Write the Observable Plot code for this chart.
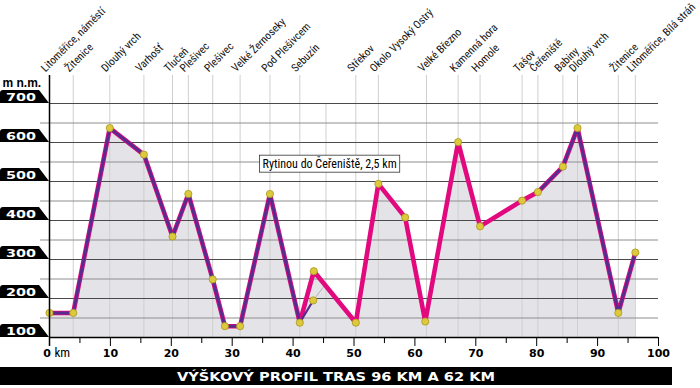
<!DOCTYPE html>
<html>
<head>
<meta charset="utf-8">
<script src="https://cdn.jsdelivr.net/npm/d3@7"></script>
<script src="https://cdn.jsdelivr.net/npm/@observablehq/plot@0.6"></script>
<style>
  html, body { margin: 0; padding: 0; background: #fff; }
  #chart svg { display: block; }
</style>
</head>
<body>
<div id="chart"></div>
<script>
// ---- data ----
const profileKm   = [0, 3.9, 9.9, 15.5, 20.2, 22.8, 26.8, 28.8, 31.3, 36.2, 41.1, 43.4, 50.3, 54.0, 58.4, 61.7, 67.1, 70.7, 77.6, 80.2, 84.3, 86.7, 93.4, 96.2];
const profileElev = [163, 163, 637, 569, 359, 468, 249, 129, 129, 468, 138, 270, 138, 494, 408, 141, 601, 385, 451, 473, 538, 637, 163, 318];

// 62 km route (purple): start part, branch to Sebuzín, end part
const shortStartKm   = [0, 3.9, 9.9, 15.5, 20.2, 22.8, 26.8, 28.8, 31.3, 36.2, 41.1];
const shortStartElev = [163, 163, 637, 569, 359, 468, 249, 129, 129, 468, 138];
const branchKm   = [41.1, 43.3];
const branchElev = [138, 195];
const shortEndKm   = [80.2, 84.3, 86.7, 93.4, 96.2];
const shortEndElev = [473, 538, 637, 163, 318];
// start of the 2,5 km shortcut "Rytinou do Čeřeniště"
const shortcutKm   = [43.3, 44.9];
const shortcutElev = [195, 228];

const placeNames = ["Litoměřice, náměstí", "Žitenice", "Dlouhý vrch", "Varhošť", "Tlučeň", "Plešivec", "Plešivec",
  "Velké Žernoseky", "Pod Plešivcem", "Sebuzín", "Střekov", "Okolo Vysoký Ostrý", "Velké Březno", "Kamenná hora",
  "Homole", "Tašov", "Čeřeniště", "Babiny", "Dlouhý vrch", "Žitenice", "Litoměřice, Bílá stráň"];
const placeKm = [0, 3.9, 9.9, 15.5, 20.2, 22.8, 26.8, 31.3, 36.2, 41.1, 50.3, 54.0, 61.9, 67.1, 70.7, 77.6, 80.2, 84.3, 86.7, 93.4, 96.2];
const extraGridKm = [45.4];

const majorTicksY = [100, 200, 300, 400, 500, 600, 700];
const minorTicksY = [150, 250, 350, 450, 550, 650];
const majorTicksX = [10, 20, 30, 40, 50, 60, 70, 80, 90, 100];
const minorTicksX = [5, 15, 25, 35, 45, 55, 65, 75, 85, 95];

const noteText = "Rytinou do Čeřeniště, 2,5 km";
const noteKm = 46.0, noteElev = 544;
const unitLabel = "m n.m.";
const titleText = "VÝŠKOVÝ PROFIL TRAS 96 KM A 62 KM";

// ---- tables ----
const profile = profileKm.map((k, i) => ({km: k, elev: profileElev[i]}));
const shortStart = shortStartKm.map((k, i) => ({km: k, elev: shortStartElev[i]}));
const branch = branchKm.map((k, i) => ({km: k, elev: branchElev[i]}));
const shortEnd = shortEndKm.map((k, i) => ({km: k, elev: shortEndElev[i]}));
const shortcut = shortcutKm.map((k, i) => ({km: k, elev: shortcutElev[i]}));
const points = profile.concat([{km: branchKm[1], elev: branchElev[1]}]);
const places = placeKm.map((k, i) => ({km: k, name: placeNames[i]}));

const PINK = "#e2097f", PURPLE = "#5a2b8f", DOT = "#ddc93c", DOTSTROKE = "#a8951e";
const NARROW = "'Liberation Sans Narrow', 'Arial Narrow', 'Roboto Condensed', sans-serif";
const HEAVY = "'DejaVu Sans', sans-serif";

const plot = Plot.plot({
  width: 700, height: 388,
  marginLeft: 49, marginRight: 42, marginTop: 103, marginBottom: 51,
  x: {domain: [0, 100], axis: null, label: null},
  y: {domain: [100, 700], axis: null, label: null},
  style: {background: "#fff", color: "#000"},
  marks: [
    Plot.areaY(profile, {x: "km", y1: 100, y2: "elev", fill: "#e4e4e8", curve: "linear"}),
    Plot.ruleX(placeKm, {stroke: "#cfcfcf", strokeWidth: 1, insetTop: -28}),
    Plot.ruleX(extraGridKm, {stroke: "#cfcfcf", strokeWidth: 1}),
    Plot.ruleY(minorTicksY, {stroke: "#8e8e8e", strokeWidth: 1, insetLeft: -9}),
    Plot.ruleY(majorTicksY.slice(1), {stroke: "#4a4a4a", strokeWidth: 1.2}),
    Plot.line(shortcut, {x: "km", y: "elev", stroke: "#b0b0b0", strokeWidth: 1}),
    Plot.line(profile, {x: "km", y: "elev", stroke: PINK, strokeWidth: 4.6, strokeLinejoin: "round"}),
    Plot.line(shortStart, {x: "km", y: "elev", stroke: PURPLE, strokeWidth: 3, strokeLinejoin: "round"}),
    Plot.line(branch, {x: "km", y: "elev", stroke: PURPLE, strokeWidth: 2.2}),
    Plot.line(shortEnd, {x: "km", y: "elev", stroke: PURPLE, strokeWidth: 3, strokeLinejoin: "round"}),
    Plot.dot(points, {x: "km", y: "elev", r: 3.6, fill: DOT, stroke: DOTSTROKE, strokeWidth: 0.8}),
    Plot.ruleX([0], {stroke: "#000", strokeWidth: 1.5, insetTop: -28, insetBottom: -9}),
    Plot.ruleY([100], {stroke: "#000", strokeWidth: 1.5}),
    Plot.axisX({ticks: majorTicksX, tickSize: 9, tickPadding: 3, fontSize: 11, fontWeight: "bold", label: null,
      fontFamily: HEAVY, tickFormat: d => String(d), stroke: "#000", strokeWidth: 1}),
    Plot.axisX({ticks: minorTicksX, tickSize: 6, tickFormat: () => "", label: null, stroke: "#000", strokeWidth: 1}),
    Plot.text([0], {x: d => d, text: () => "0", frameAnchor: "bottom", dy: 16, dx: -2.5,
      fontSize: 11, fontWeight: "bold", fontFamily: HEAVY, lineAnchor: "middle"}),
    Plot.text([0], {x: d => d, text: () => "km", frameAnchor: "bottom", dy: 15.5, dx: 5,
      fontSize: 13, fontFamily: NARROW, textAnchor: "start", lineAnchor: "middle"}),
    Plot.text(places, {x: "km", text: "name", frameAnchor: "top", dy: -31, dx: -4, rotate: -45,
      textAnchor: "start", lineAnchor: "bottom", fontSize: 11, fontFamily: NARROW, fill: "#111"}),
    Plot.text([noteText], {x: () => noteKm, y: () => noteElev, text: d => d, fontSize: 12,
      fontFamily: NARROW, fill: "#000", lineAnchor: "middle"}),
    Plot.text([unitLabel], {text: d => d, frameAnchor: "top-left", dx: -47, dy: -20.5, textAnchor: "start",
      lineAnchor: "middle", fontSize: 12, fontWeight: "bold", fontFamily: "'Liberation Sans', Arial, sans-serif"})
  ]
});

document.getElementById("chart").appendChild(plot);

// ---- decorations built from the plot's scales ----
const svg = d3.select(plot);
const yS = plot.scale("y");

// white box behind the note
svg.selectAll("text").each(function() {
  if (this.textContent === noteText) {
    const bb = this.getBBox();
    const pad = 3;
    d3.select(this.parentNode).insert("rect", () => this)
      .attr("x", bb.x - pad).attr("y", bb.y - 1).attr("width", bb.width + 2 * pad).attr("height", bb.height + 2)
      .attr("transform", this.getAttribute("transform"))
      .attr("fill", "#fff").attr("stroke", "#333").attr("stroke-width", 0.8);
  }
});

// black value badges on the left
const badges = svg.append("g").attr("text-anchor", "start");
majorTicksY.forEach(v => {
  const g = yS.apply(v);
  const t = g - 13;
  badges.append("path")
    .attr("d", `M0,${t + 3} Q0,${t} 3,${t} L39,${t} L49,${g} L0,${g} Z`)
    .attr("fill", "#000");
  badges.append("text")
    .attr("x", 6).attr("y", g - 2.5).attr("text-anchor", "start")
    .attr("fill", "#fff").attr("font-family", HEAVY).attr("font-weight", "bold").attr("font-size", 11)
    .attr("textLength", 30).attr("lengthAdjust", "spacingAndGlyphs")
    .text(String(v));
});

// bottom title bar
const bar = svg.append("g");
bar.append("rect").attr("x", 0).attr("y", 367).attr("width", 672).attr("height", 18).attr("fill", "#000");
bar.append("text").attr("x", 336).attr("y", 380.5).attr("text-anchor", "middle")
  .attr("fill", "#fff").attr("font-family", HEAVY).attr("font-weight", "bold").attr("font-size", 12)
  .attr("textLength", 318).attr("lengthAdjust", "spacingAndGlyphs")
  .text(titleText);
</script>
</body>
</html>
